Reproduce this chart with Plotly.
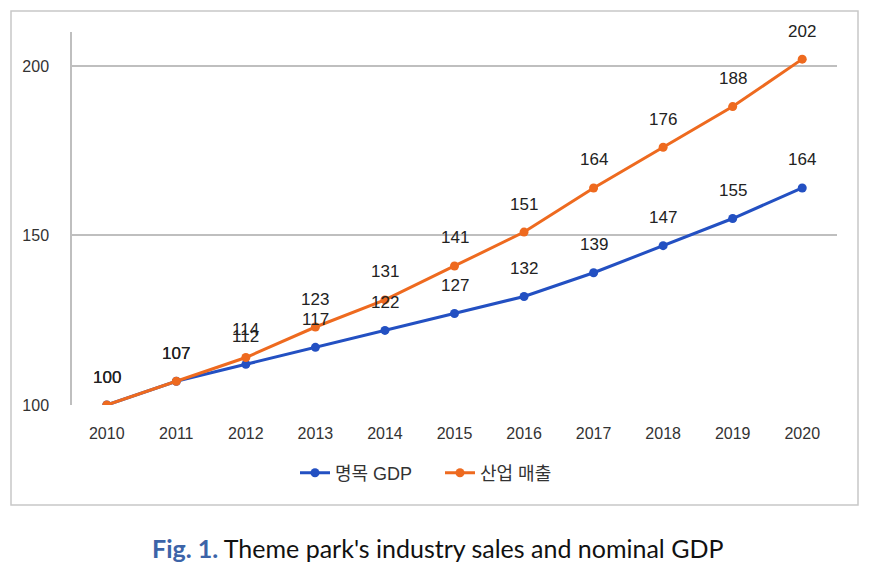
import plotly.graph_objects as go

years = [2010, 2011, 2012, 2013, 2014, 2015, 2016, 2017, 2018, 2019, 2020]
gdp = [100, 107, 112, 117, 122, 127, 132, 139, 147, 155, 164]
sales = [100, 107, 114, 123, 131, 141, 151, 164, 176, 188, 202]
y_ticks = [100, 150, 200]

BLUE = "#2350C2"
ORANGE = "#EE6A1F"
GRID = "#BFBFBF"

fig = go.Figure()
fig.add_trace(go.Scatter(x=years, y=gdp, name="명목 GDP", mode="lines+markers",
                         line=dict(color=BLUE, width=3),
                         marker=dict(size=9, color=BLUE)))
fig.add_trace(go.Scatter(x=years, y=sales, name="산업 매출", mode="lines+markers",
                         line=dict(color=ORANGE, width=3),
                         marker=dict(size=9, color=ORANGE)))

# value labels above points
for series in (gdp, sales):
    for yr, v in zip(years, series):
        fig.add_annotation(x=yr, y=v, text=str(v), showarrow=False, yshift=28,
                           font=dict(size=17, color="#222222"))

# page body adds an 8px offset, so everything is laid out 8px up/left
OFF = 8
L, T = 72 - OFF, 32 - OFF
pw, ph = 765, 373
R, B = 876 - L - pw, 570 - T - ph
def px(x):
    return (x - OFF - L) / pw
def py(y):
    return (T + ph - (y - OFF)) / ph

# outer frame
fig.add_shape(type="rect", xref="paper", yref="paper",
              x0=px(11), x1=px(858), y0=py(505), y1=py(11),
              line=dict(color="#C8C8C8", width=1.5))

fig.add_annotation(xref="paper", yref="paper", x=px(437), y=py(548),
                   xanchor="center", yanchor="middle",
                   text="<span style='color:#3C64A8'><b>Fig. 1.</b></span> Theme park's industry sales and nominal GDP",
                   showarrow=False, font=dict(family="Lato", size=25, color="#111111"))

fig.update_layout(
    width=876, height=570,
    margin=dict(l=L, r=R, t=T, b=B),
    paper_bgcolor="white", plot_bgcolor="white",
    font=dict(family="Liberation Sans, Noto Sans CJK KR", size=16, color="#333333"),
    showlegend=True,
    legend=dict(orientation="h", x=px(440), y=py(473), xanchor="center", yanchor="middle",
                entrywidth=100, font=dict(size=18, color="#333333")),
)
fig.update_xaxes(range=[2009.5, 2020.5], tickvals=years, showgrid=False, showline=False,
                 zeroline=False, ticks="", ticklabelstandoff=17, tickfont=dict(size=16))
fig.update_yaxes(range=[100, 210], tickvals=y_ticks, showgrid=True, gridcolor=GRID, gridwidth=1.5,
                 zeroline=False, showline=True, linecolor=GRID, linewidth=1.5,
                 ticks="", ticklabelstandoff=18, tickfont=dict(size=16))

fig.write_html("out.html")
